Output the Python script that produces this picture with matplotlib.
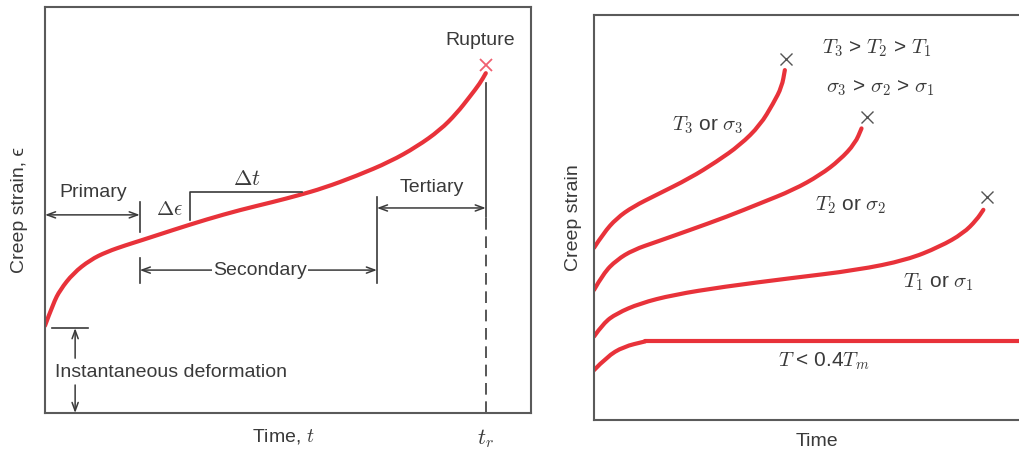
import numpy as np
import matplotlib.pyplot as plt
from matplotlib.path import Path
from matplotlib.patches import PathPatch

plt.rcParams['font.family'] = ['Liberation Sans', 'DejaVu Sans']
plt.rcParams['mathtext.fontset'] = 'cm'

# ---- left panel: a typical creep curve (time 0-100, strain 0-100, arbitrary units)
creep_t = [0, 1.7, 3.1, 5.8, 9.3, 12.7, 16.8, 19.5, 26.4, 33.3, 40.1, 47.0,
           52.1, 57.3, 64.1, 71.0, 76.5, 81.3, 84.7, 87.4, 89.5, 90.7]
creep_e = [21.5, 27.0, 30.3, 34.4, 37.7, 39.7, 41.4, 42.4, 45.1, 47.7, 50.0, 52.0,
           53.6, 55.4, 58.4, 61.9, 65.6, 69.7, 73.8, 77.9, 81.2, 83.7]
rupture_t, rupture_e = 90.7, 85.7

# ---- right panel: creep curves at increasing temperature / stress
t3 = [0, 2.2, 5.3, 9.2, 14.7, 22.5, 28.8, 34.3, 39.0, 42.1, 44.1, 44.8]
e3 = [42.5, 46.1, 49.8, 52.7, 55.6, 59.7, 63.8, 67.9, 72.8, 78.2, 82.3, 86.4]
t2 = [0, 2.2, 5.3, 9.2, 14.7, 22.5, 31.2, 39.0, 46.8, 53.1, 57.7, 61.3, 62.8]
e2 = [32.1, 36.2, 39.5, 42.0, 44.0, 46.9, 50.2, 53.5, 56.8, 60.5, 64.2, 68.3, 72.0]
t1 = [0, 2.2, 5.3, 10.8, 18.6, 30.4, 46.0, 61.7, 73.4, 81.2, 86.7, 89.8, 91.4]
e1 = [20.6, 23.9, 26.3, 28.8, 30.9, 32.9, 35.0, 37.0, 39.5, 42.8, 46.1, 49.4, 51.9]
# low temperature: short primary stage, then no further creep
t0 = [0, 3.0, 6.9, 12.0]
e0 = [12.3, 15.6, 18.1, 19.4]
plateau_t = [12.0, 100]
plateau_e = [19.4, 19.4]
breaks_t = [45.1, 64.0, 92.2]
breaks_e = [89.1, 74.9, 55.1]

ink = '#3a3a3a'
red = '#e8323a'
fs = 14

fig = plt.figure(figsize=(10.2, 4.54), dpi=100)
ax1 = fig.add_axes([45 / 1020, 41 / 454, 486 / 1020, 406 / 454])
ax2 = fig.add_axes([594 / 1020, 34 / 454, 426 / 1020, 405 / 454])

for ax in (ax1, ax2):
    ax.set_xlim(0, 100)
    ax.set_ylim(0, 100)
    ax.set_xticks([])
    ax.set_yticks([])
    for s in ax.spines.values():
        s.set_color('#5a5a5a')
        s.set_linewidth(1.5)
ax2.spines['right'].set_visible(False)


def smooth_curve(ax, xs, ys):
    # quadratic bezier through the midpoints, the read points act as controls
    pts = np.column_stack([xs, ys]).astype(float)
    verts = [pts[0]]
    codes = [Path.MOVETO]
    for i in range(1, len(pts) - 1):
        verts += [pts[i], (pts[i] + pts[i + 1]) / 2]
        codes += [Path.CURVE3, Path.CURVE3]
    verts.append(pts[-1])
    codes.append(Path.LINETO)
    ax.add_patch(PathPatch(Path(verts, codes), fill=False, edgecolor=red, lw=3,
                           capstyle='round', joinstyle='round'))


def arrow(ax, x0, y0, x1, y1, style):
    ax.annotate('', xy=(x1, y1), xytext=(x0, y0),
                arrowprops=dict(arrowstyle=style + ',head_length=0.6,head_width=0.22',
                                color=ink, lw=1.1, shrinkA=0, shrinkB=0))


def vline(ax, x, y0, y1, **kw):
    ax.plot([x, x], [y0, y1], color=ink, lw=1.2, **kw)


# left panel
smooth_curve(ax1, creep_t, creep_e)
ax1.plot(rupture_t, rupture_e, marker='x', color='#f06070', ms=9, mew=1.3)
ax1.text(89.5, 91.8, 'Rupture', ha='center', va='center', fontsize=fs, color=ink)

# primary
arrow(ax1, 0, 48.8, 19.5, 48.8, '<->')
ax1.text(9.9, 54.2, 'Primary', ha='center', va='center', fontsize=fs, color=ink)
vline(ax1, 19.5, 44.7, 52.0)
vline(ax1, 19.5, 32.0, 38.2)

# secondary
vline(ax1, 68.3, 32.0, 53.2)
arrow(ax1, 19.5, 35.2, 68.3, 35.2, '<->')
ax1.text(44.2, 35.2, 'Secondary', ha='center', va='center', fontsize=fs, color=ink,
         bbox=dict(facecolor='white', edgecolor='none', pad=1))

# tertiary
arrow(ax1, 68.3, 50.5, 90.7, 50.5, '<->')
ax1.text(79.6, 55.6, 'Tertiary', ha='center', va='center', fontsize=fs, color=ink)
vline(ax1, 90.7, 48.3, 81.3)
vline(ax1, 90.7, 0, 48.3, ls=(0, (7, 4)))
ax1.text(90.7, -6.2, '$t_r$', ha='center', va='center', fontsize=16, color=ink,
         clip_on=False)

# slope bracket
ax1.plot([29.8, 29.8, 52.9], [47.5, 54.4, 54.4], color=ink, lw=1.2)
ax1.text(28.4, 50.2, r'$\Delta\epsilon$', ha='right', va='center', fontsize=15, color=ink)
ax1.text(41.6, 57.6, r'$\Delta t$', ha='center', va='center', fontsize=16, color=ink)

# instantaneous deformation
ax1.plot([1.4, 8.8], [20.9, 20.9], color=ink, lw=1.2)
arrow(ax1, 6.2, 13.5, 6.2, 20.9, '->')
arrow(ax1, 6.2, 6.9, 6.2, 0, '->')
ax1.text(25.9, 9.9, 'Instantaneous deformation', ha='center', va='center',
         fontsize=fs, color=ink)

ax1.set_xlabel('Time, $t$', fontsize=fs, color=ink, va='center')
ax1.xaxis.set_label_coords(0.49, -0.059)
ax1.set_ylabel('Creep strain, \u03f5', fontsize=fs, color=ink, va='center')
ax1.yaxis.set_label_coords(-0.052, 0.5)

# right panel
for tt, ee in ((t3, e3), (t2, e2), (t1, e1), (t0, e0)):
    smooth_curve(ax2, tt, ee)
ax2.plot(plateau_t, plateau_e, color=red, lw=3, solid_capstyle='round')
ax2.plot(breaks_t, breaks_e, ls='none', marker='x', color='#555555', ms=8, mew=1)

ax2.text(26.8, 72.8, r'$T_3$ or $\sigma_3$', ha='center', va='center', fontsize=15, color=ink)
ax2.text(60.3, 53.1, r'$T_2$ or $\sigma_2$', ha='center', va='center', fontsize=15, color=ink)
ax2.text(80.9, 34.1, r'$T_1$ or $\sigma_1$', ha='center', va='center', fontsize=15, color=ink)
ax2.text(54.0, 14.4, r'$T$ < 0.4$T_m$', ha='center', va='center', fontsize=15, color=ink)
ax2.text(66.4, 91.9, r'$T_3$ > $T_2$ > $T_1$', ha='center', va='center', fontsize=15, color=ink)
ax2.text(67.1, 82.0, r'$\sigma_3$ > $\sigma_2$ > $\sigma_1$', ha='center', va='center',
         fontsize=15, color=ink)

ax2.set_xlabel('Time', fontsize=fs, color=ink, va='center')
ax2.xaxis.set_label_coords(0.523, -0.054)
ax2.set_ylabel('Creep strain', fontsize=fs, color=ink, va='center')
ax2.yaxis.set_label_coords(-0.049, 0.5)

fig.savefig('out.png', dpi=100)
